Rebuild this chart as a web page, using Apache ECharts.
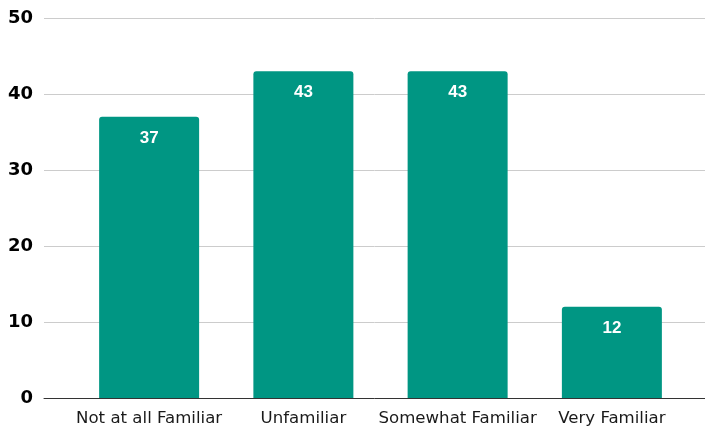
<!DOCTYPE html>
<html>
<head>
<meta charset="utf-8">
<script src="https://cdn.jsdelivr.net/npm/echarts@6/dist/echarts.min.js"></script>
<style>
  html, body { margin: 0; padding: 0; background: #fff; }
  #chart { width: 705px; height: 430px; }
</style>
</head>
<body>
<div id="chart"></div>
<script>
  var categories = ['Not at all Familiar', 'Unfamiliar', 'Somewhat Familiar', 'Very Familiar']
  var counts = [37, 43, 43, 12]
  var yMin = 0
  var yMax = 50
  var yStep = 10

  var myChart = echarts.init(document.getElementById('chart'))
  var option = {
    animation: false,
    grid: [
      // background grid: gridlines, y labels, baseline
      { left: 44, right: 0, top: 18, bottom: 32 },
      // bars and category labels
      { left: 72, right: 16, top: 18, bottom: 32 }
    ],
    xAxis: [
      {
        gridIndex: 0,
        type: 'value',
        min: 0,
        max: 1,
        axisLine: { show: true, onZero: false, lineStyle: { color: '#333', width: 1 } },
        axisTick: { show: false },
        axisLabel: { show: false },
        splitLine: { show: false }
      },
      {
        gridIndex: 1,
        type: 'category',
        data: categories,
        axisLine: { show: false },
        axisTick: { show: false },
        axisLabel: {
          interval: 0,
          margin: 12,
          color: '#1a1a1a',
          fontSize: 16.6,
          fontFamily: 'DejaVu Sans'
        }
      }
    ],
    yAxis: [
      {
        gridIndex: 0,
        type: 'value',
        min: yMin,
        max: yMax,
        interval: yStep,
        axisLine: { show: false },
        axisTick: { show: false },
        axisLabel: {
          margin: 11,
          color: '#000',
          fontSize: 18,
          fontWeight: 'bold',
          fontFamily: 'DejaVu Sans'
        },
        splitLine: { lineStyle: { color: '#cccccc', width: 1 } }
      },
      {
        gridIndex: 1,
        type: 'value',
        min: yMin,
        max: yMax,
        interval: yStep,
        show: false,
        splitLine: { show: false }
      }
    ],
    series: [
      {
        type: 'bar',
        xAxisIndex: 1,
        yAxisIndex: 1,
        data: counts,
        barWidth: 100,
        itemStyle: { color: '#009683', borderRadius: [3, 3, 0, 0] },
        label: {
          show: true,
          position: 'insideTop',
          distance: 13,
          color: '#fff',
          fontSize: 17,
          fontWeight: 'bold',
          fontFamily: 'Liberation Sans'
        }
      }
    ]
  }
  myChart.setOption(option)
</script>
</body>
</html>
